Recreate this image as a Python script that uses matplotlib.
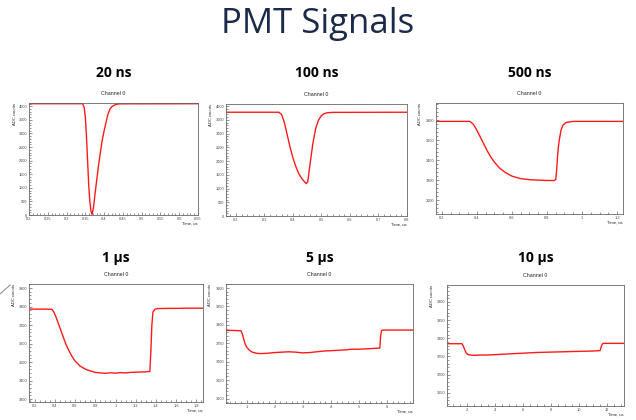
import numpy as np
import matplotlib
matplotlib.use('Agg')
import matplotlib.pyplot as plt
from matplotlib.ticker import MultipleLocator, FuncFormatter
from matplotlib.lines import Line2D

# Waveforms (time in us, ADC counts)
t_20ns = [0.20, 0.343, 0.347, 0.350, 0.353, 0.356, 0.359, 0.362, 0.365, 0.368,
          0.372, 0.376, 0.380, 0.385, 0.390, 0.395, 0.400, 0.405, 0.410, 0.415,
          0.420, 0.430, 0.440, 0.65]
adc_20ns = [4095, 4095, 3950, 3600, 2900, 2000, 1100, 500, 150, 20,
            300, 800, 1250, 1800, 2300, 2750, 3100, 3400, 3700, 3880,
            3980, 4060, 4090, 4095]

t_100ns = [0.165, 0.350, 0.360, 0.370, 0.380, 0.390, 0.400, 0.410, 0.420, 0.430,
           0.440, 0.447, 0.452, 0.460, 0.470, 0.480, 0.490, 0.500, 0.510, 0.520,
           0.540, 0.80]
adc_100ns = [3780, 3780, 3700, 3400, 2950, 2500, 2120, 1800, 1550, 1380,
             1250, 1180, 1250, 1900, 2650, 3200, 3500, 3660, 3730, 3760,
             3775, 3780]

t_500ns = [0.166, 0.36, 0.38, 0.40, 0.42, 0.44, 0.46, 0.48, 0.50, 0.53,
           0.56, 0.60, 0.65, 0.70, 0.75, 0.80, 0.84, 0.85, 0.855, 0.86,
           0.865, 0.87, 0.88, 0.89, 0.91, 0.95, 1.234]
adc_500ns = [3790, 3790, 3760, 3700, 3630, 3560, 3490, 3430, 3380, 3320,
             3280, 3240, 3215, 3205, 3200, 3197, 3196, 3205, 3300, 3430,
             3530, 3600, 3700, 3750, 3780, 3790, 3790]

t_1us = [0.144, 0.30, 0.37, 0.39, 0.41, 0.43, 0.45, 0.48, 0.51, 0.54,
         0.57, 0.60, 0.65, 0.70, 0.75, 0.80, 0.85, 0.90, 0.95, 1.00,
         1.05, 1.10, 1.15, 1.20, 1.25, 1.30, 1.34, 1.35, 1.36, 1.37,
         1.39, 1.42, 1.50, 1.60, 1.70, 1.80, 1.866]
adc_1us = [3786, 3786, 3785, 3770, 3745, 3715, 3685, 3640, 3595, 3560,
           3530, 3505, 3478, 3462, 3452, 3444, 3441, 3439, 3442, 3440,
           3443, 3441, 3444, 3445, 3446, 3447, 3449, 3560, 3700, 3770,
           3785, 3789, 3790, 3790, 3791, 3791, 3791]

t_5us = [0.265, 0.50, 0.80, 0.85, 0.90, 0.95, 1.00, 1.10, 1.20, 1.35,
         1.50, 1.75, 2.00, 2.25, 2.50, 2.75, 3.00, 3.25, 3.50, 3.75,
         4.00, 4.25, 4.50, 4.75, 5.00, 5.25, 5.50, 5.74, 5.77, 5.80,
         5.85, 6.00, 6.50, 6.92]
adc_5us = [3785, 3785, 3784, 3775, 3760, 3748, 3740, 3731, 3726, 3723,
           3722, 3723, 3725, 3726, 3727, 3726, 3724, 3725, 3727, 3729,
           3730, 3731, 3732, 3734, 3734, 3735, 3736, 3737, 3770, 3784,
           3786, 3786, 3786, 3786]

t_10us = [0.58, 1.00, 1.65, 1.75, 1.85, 1.95, 2.05, 2.20, 2.50, 3.00,
          3.50, 4.00, 5.00, 6.00, 7.00, 8.00, 9.00, 10.00, 11.00, 11.50,
          11.60, 11.70, 12.00, 12.50, 13.20]
adc_10us = [3785, 3785, 3785, 3778, 3768, 3760, 3756, 3754, 3753, 3754,
            3754, 3755, 3757, 3759, 3761, 3762, 3763, 3764, 3765, 3766,
            3780, 3786, 3786, 3786, 3786]

titles = ['20 ns', '100 ns', '500 ns', '1 µs', '5 µs', '10 µs']
times = [t_20ns, t_100ns, t_500ns, t_1us, t_5us, t_10us]
counts = [adc_20ns, adc_100ns, adc_500ns, adc_1us, adc_5us, adc_10us]

# axes boxes in figure fractions, plus limits and tick steps for each pad
boxes = [[0.0456, 0.488, 0.2657, 0.2667],
         [0.3553, 0.4857, 0.2846, 0.2667],
         [0.6855, 0.4905, 0.2940, 0.2643],
         [0.0456, 0.0429, 0.2736, 0.2810],
         [0.3553, 0.0405, 0.2940, 0.2833],
         [0.7028, 0.0333, 0.2783, 0.2880]]
xlims = [(0.2, 0.65), (0.165, 0.8), (0.166, 1.234), (0.144, 1.866), (0.265, 6.92), (0.58, 13.2)]
ylims = [(0, 4120), (0, 4080), (2860, 3975), (3284, 3922), (3588, 3911), (3614, 3946)]
xsteps = [(0.05, 0.01), (0.1, 0.02), (0.2, 0.05), (0.2, 0.05), (1, 0.2), (2, 0.5)]
ysteps = [(500, 100), (500, 100), (200, 40), (100, 20), (50, 10), (50, 10)]

fig = plt.figure(figsize=(6.36, 4.20), dpi=100)

fig.text(0.5, 0.943, 'PMT Signals', ha='center', va='center', fontsize=25,
         family='Open Sans', color='#1b2a48')

for i in range(6):
    ax = fig.add_axes(boxes[i])
    ax.plot(times[i], counts[i], color='#ff1a1a', lw=1.0)
    ax.set_xlim(*xlims[i])
    ax.set_ylim(*ylims[i])

    ax.xaxis.set_major_locator(MultipleLocator(xsteps[i][0]))
    ax.xaxis.set_minor_locator(MultipleLocator(xsteps[i][1]))
    ax.yaxis.set_major_locator(MultipleLocator(ysteps[i][0]))
    ax.yaxis.set_minor_locator(MultipleLocator(ysteps[i][1]))
    ax.xaxis.set_major_formatter(FuncFormatter(lambda v, p: '%g' % round(v, 3)))
    ax.yaxis.set_major_formatter(FuncFormatter(lambda v, p: '%g' % v))
    ax.tick_params(which='both', direction='in', labelsize=2.8, pad=1.2,
                   colors='#444', width=0.4)
    ax.tick_params(which='major', length=2.4)
    ax.tick_params(which='minor', length=1.2)
    for lab in ax.get_xticklabels() + ax.get_yticklabels():
        lab.set_family('Liberation Sans')
    for s in ax.spines.values():
        s.set_color('#666')
        s.set_linewidth(0.6)

    ax.text(0.5, 1.06, 'Channel 0', transform=ax.transAxes, ha='center',
            va='bottom', fontsize=3.8, family='Liberation Sans', color='#222')
    ax.annotate('Time, us', xy=(1.0, 0.0), xycoords='axes fraction',
                xytext=(0, -4.5), textcoords='offset points', ha='right',
                va='top', fontsize=3, family='Liberation Sans', color='#222')
    ax.text(-0.085, 1.0, 'ADC counts', transform=ax.transAxes, ha='center',
            va='top', rotation=90, fontsize=3, family='Liberation Sans', color='#222')

    cx = boxes[i][0] + boxes[i][2] / 2
    ty = 1 - 73 / 420 if i < 3 else 1 - 258 / 420
    fig.text(cx, ty, titles[i], ha='center', va='center', fontsize=10,
             weight='bold', family='Open Sans', color='black')

# stray pointer stroke at the left edge of the slide
fig.add_artist(Line2D([0.0, 0.016], [1 - 294 / 420, 1 - 285 / 420],
                      transform=fig.transFigure, color='#7a8ea6', lw=0.7))

fig.savefig('out.png', dpi=100)
